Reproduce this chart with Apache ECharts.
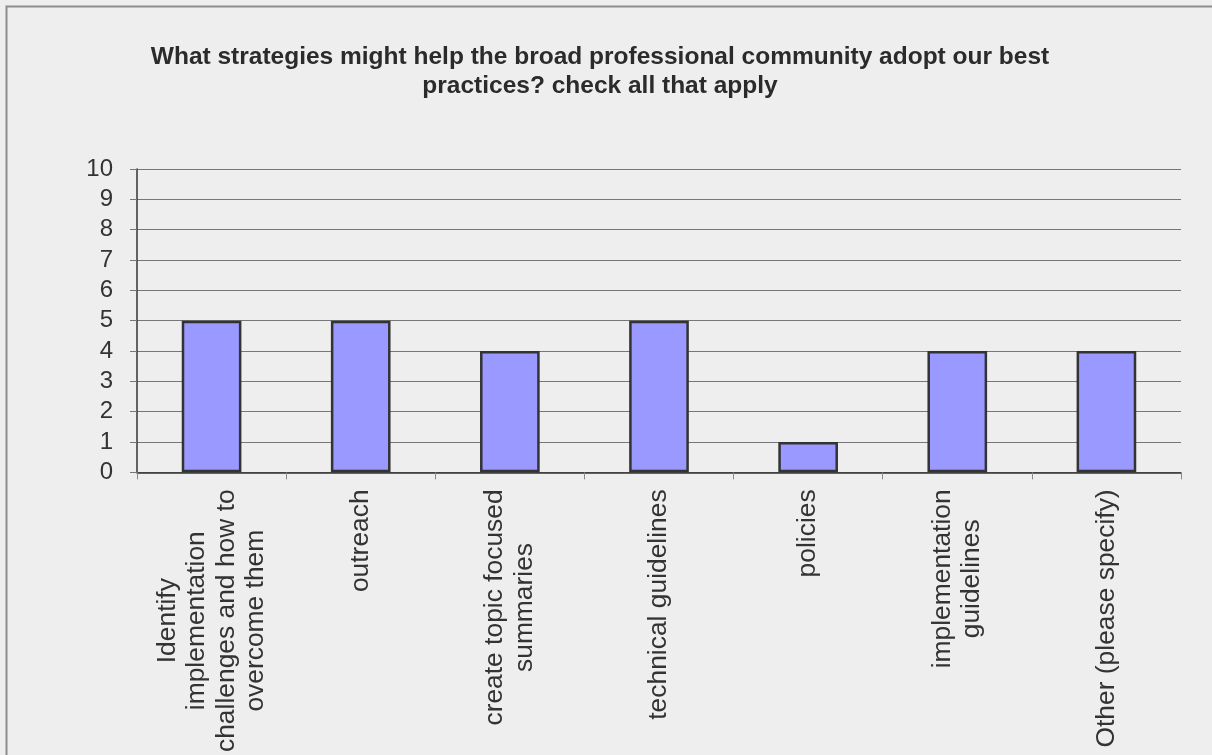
<!DOCTYPE html>
<html>
<head>
<meta charset="utf-8">
<script src="https://cdn.jsdelivr.net/npm/echarts@6/dist/echarts.min.js"></script>
<style>
html,body{margin:0;padding:0;background:#ffffff;}
#c{width:1212px;height:755px;}
</style>
</head>
<body>
<div id="c"></div>
<script>
const titleText = 'What strategies might help the broad professional community adopt our best\npractices? check all that apply';
const categories = [
  'Identify\nimplementation\nchallenges and how to\novercome them',
  'outreach',
  'create topic focused\nsummaries',
  'technical guidelines',
  'policies',
  'implementation\nguidelines',
  'Other (please specify)'
];
const values = [5, 5, 4, 5, 1, 4, 4];
const yMin = 0, yMax = 10, yStep = 1;

const chart = echarts.init(document.getElementById('c'));
chart.setOption({
  backgroundColor: '#eeeeee',
  animation: false,
  graphic: [{
    type: 'rect', left: 4, top: 4, silent: true,
    shape: { width: 1230, height: 770 },
    style: { fill: 'none', stroke: '#8c8c8c', lineWidth: 2 }
  }],
  title: {
    text: titleText,
    left: 595, top: 38, textAlign: 'center',
    textStyle: { fontFamily: 'Liberation Sans', fontWeight: 'bold', fontSize: 24.5, color: '#2b2b2b', lineHeight: 28.5 }
  },
  grid: { left: 137, right: 31, top: 169, bottom: 282, containLabel: false },
  xAxis: {
    type: 'category',
    data: categories,
    axisLine: { lineStyle: { color: '#333333', width: 1.5 } },
    axisTick: { show: true, length: 7, lineStyle: { color: '#888888' } },
    axisLabel: {
      rotate: 90, margin: 17, interval: 0,
      formatter: function (v) { return v.split('\n').map(function (s) { return '{c|' + s + '}'; }).join('\n'); },
      rich: { c: { align: 'center', fontFamily: 'Liberation Sans', fontSize: 26.4, lineHeight: 29.3, color: '#333333' } }
    }
  },
  yAxis: {
    type: 'value', min: yMin, max: yMax, interval: yStep,
    axisLine: { show: true, lineStyle: { color: '#333333', width: 1.5 } },
    axisTick: { show: true, length: 7, lineStyle: { color: '#777777' } },
    splitLine: { show: true, lineStyle: { color: '#777777', width: 1 } },
    axisLabel: { margin: 24, fontFamily: 'Liberation Sans', fontSize: 24, color: '#333333' }
  },
  series: [{
    type: 'bar',
    data: values,
    barWidth: '40%',
    itemStyle: { color: '#9999ff', borderColor: '#333333', borderWidth: 2.5 }
  }]
});
</script>
</body>
</html>
